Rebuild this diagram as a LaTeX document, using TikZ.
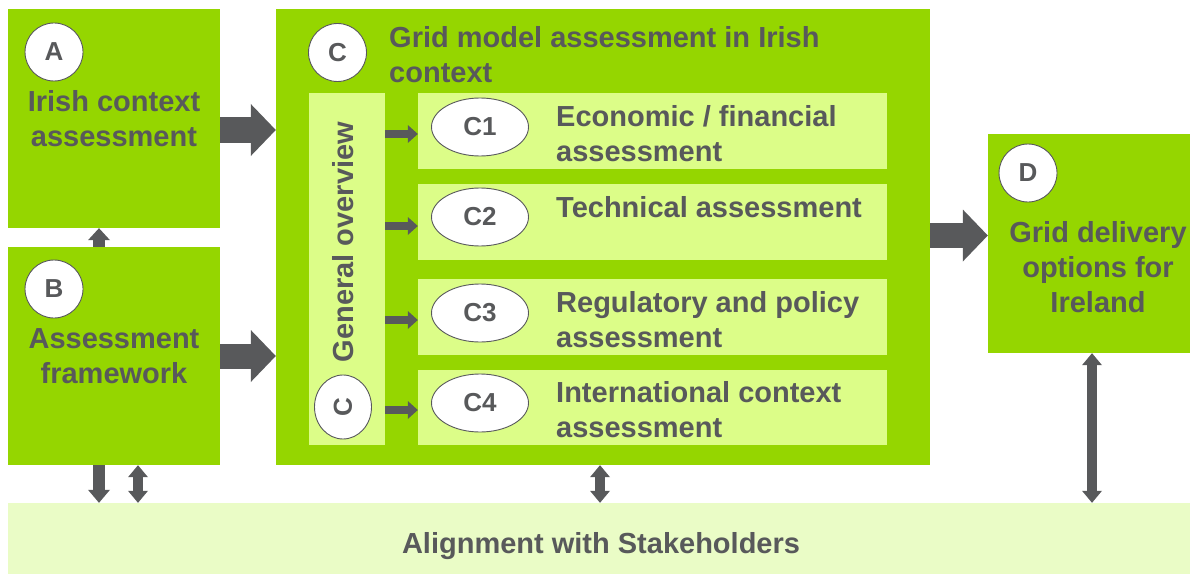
\documentclass[tikz,border=0pt]{standalone}
\usepackage{fontspec}
\setmainfont{Liberation Sans}
\usetikzlibrary{arrows.meta,calc,shapes.geometric}
\definecolor{leaf}{HTML}{95D600}
\definecolor{pale}{HTML}{DCFD88}
\definecolor{mist}{HTML}{EAFCC6}
\definecolor{ink}{HTML}{58595B}
% multi-line text blocks whose baseline is that of the first line
\newcommand{\stackc}[1]{\begin{tabular}[t]{@{}c@{}}#1\end{tabular}}
\newcommand{\stackl}[1]{\begin{tabular}[t]{@{}l@{}}#1\end{tabular}}
\begin{document}
\begin{tikzpicture}[x=1pt,y=-1pt,
  box/.style={rectangle, inner sep=0pt, draw=none},
  bigbox/.style={box, fill=leaf},
  subbox/.style={box, fill=pale},
  txt/.style={inner sep=0pt, font=\fontsize{29}{35}\selectfont\bfseries, text=ink},
  badge/.style={circle, draw=ink, line width=0.9pt, fill=white, minimum size=58pt,
    inner sep=0pt, font=\fontsize{26}{30}\selectfont\bfseries, text=ink},
  oval/.style={ellipse, draw=ink, line width=0.9pt, fill=white, minimum width=97pt,
    minimum height=58pt, inner sep=0pt, font=\fontsize{26}{30}\selectfont\bfseries, text=ink},
  blockarrow/.style={draw=ink, line width=25pt,
    -{Triangle[length=25pt,width=52pt,line width=0pt]}},
  smallarrow/.style={draw=ink, line width=8pt,
    -{Triangle[length=10pt,width=18pt,line width=0pt]}},
  stemarrow/.style={draw=ink, line width=12pt,
    -{Triangle[length=12pt,width=22pt,line width=0pt]}},
  twoway/.style={draw=ink, line width=10pt,
    {Triangle[length=12pt,width=20pt,line width=0pt]}-{Triangle[length=12pt,width=20pt,line width=0pt]}}
]
\useasboundingbox (0,0) rectangle (1190,575);

% main blocks
\node[bigbox, minimum width=212pt, minimum height=219pt] (A) at (114,118.5) {};
\node[bigbox, minimum width=212pt, minimum height=218pt] (B) at (114,356) {};
\node[bigbox, minimum width=654pt, minimum height=456pt] (C) at (603,237) {};
\node[bigbox, minimum width=202pt, minimum height=219pt] (D) at (1089,243.5) {};
\node[box, fill=mist, minimum width=1182pt, minimum height=71pt] (S) at (599,538.5) {};

% inner column and sub-assessments of C
\node[subbox, minimum width=76pt, minimum height=352pt] (G) at (347,269) {};
\node[subbox, minimum width=469pt, minimum height=76pt] (C1) at (652.5,131) {};
\node[subbox, minimum width=469pt, minimum height=76pt] (C2) at (652.5,222) {};
\node[subbox, minimum width=469pt, minimum height=76pt] (C3) at (652.5,317) {};
\node[subbox, minimum width=469pt, minimum height=75pt] (C4) at (652.5,407.5) {};

% letter badges
\node[badge] (bA) at (54,52) {A};
\node[badge] (bB) at (54,289) {B};
\node[badge] (bC) at (337.5,52.5) {C};
\node[badge] (bD) at (1028,173) {D};
\node[oval, rotate=90, minimum width=64pt, minimum height=57pt] (bG) at (343,407) {C};
\node[oval] (o1) at (480,127) {C1};
\node[oval] (o2) at (480,217) {C2};
\node[oval] (o3) at (480,313) {C3};
\node[oval] (o4) at (480,403) {C4};

% labels
\node[txt, anchor=base] (tA) at (114,112) {\stackc{Irish context\\assessment}};
\node[txt, anchor=base] (tB) at (114,348) {\stackc{Assessment\\framework}};
\node[txt, anchor=base west] (tC) at (389,48) {\stackl{Grid model assessment in Irish\\context}};
\node[txt, anchor=base west] (t1) at (556,126) {\stackl{Economic / financial\\assessment}};
\node[txt, anchor=base west] (t2) at (556,217) {Technical assessment};
\node[txt, anchor=base west] (t3) at (556,312) {\stackl{Regulatory and policy\\assessment}};
\node[txt, anchor=base west] (t4) at (556,402) {\stackl{International context\\assessment}};
\node[txt, anchor=base] (tD) at (1098,242) {\stackc{Grid delivery\\options for\\Ireland}};
\node[txt, anchor=base] (tS) at (601,553) {Alignment with Stakeholders};
\node[txt, anchor=base, rotate=90] (tG) at (353,242) {General overview};

% block arrows between the main blocks
\coordinate (pA) at ([yshift=-11.5pt]A.east);
\draw[blockarrow] (pA) -- (pA -| C.west);
\draw[blockarrow] (B.east) -- (B.east -| C.west);
\coordinate (pD) at ([yshift=8pt]D.west);
\draw[blockarrow] (pD -| C.east) -- (pD);

% arrows from the overview column to each sub-assessment
\foreach \k/\s in {1/-3pt,2/-4pt,3/-3pt,4/-2.5pt}{
  \coordinate (e\k) at ([yshift=\s]C\k.west);
  \draw[smallarrow] (e\k -| G.east) -- (e\k);
}

% vertical links
\draw[stemarrow] ([xshift=-15pt]B.north) -- ([xshift=-15pt]A.south);
\coordinate (vB) at ([xshift=-15pt]B.south);
\draw[stemarrow, -{Triangle[length=13pt,width=22pt,line width=0pt]}] (vB) -- (vB |- S.north);
\coordinate (wB) at ([xshift=24pt]B.south);
\draw[twoway] (wB) -- (wB |- S.north);
\coordinate (vC) at ([xshift=-3pt]C.south);
\draw[twoway] (vC) -- (vC |- S.north);
\coordinate (vD) at ([xshift=3pt]D.south);
\draw[twoway] (vD) -- (vD |- S.north);
\end{tikzpicture}
\end{document}
